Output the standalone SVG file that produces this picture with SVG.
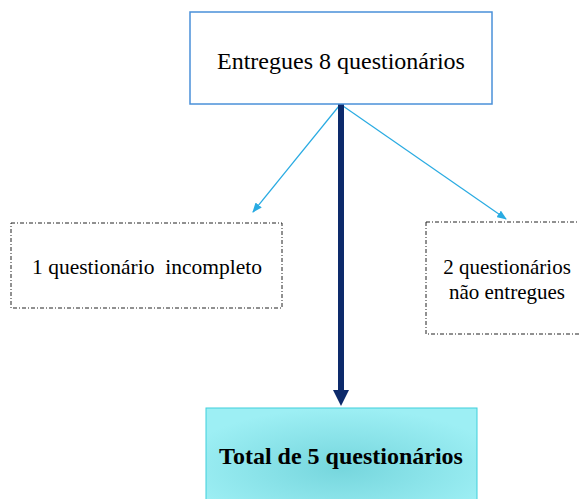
<svg xmlns="http://www.w3.org/2000/svg" width="579" height="499" viewBox="0 0 579 499">
<defs>
<radialGradient id="g" cx="0.5" cy="0.6" r="0.6">
<stop offset="0" stop-color="#76d6dd"/>
<stop offset="1" stop-color="#9defF4"/>
</radialGradient>
<marker id="ab" markerWidth="10" markerHeight="8" refX="9" refY="4" orient="auto" markerUnits="userSpaceOnUse">
<path d="M0,0 L10,4 L0,8 Z" fill="#29abe2"/>
</marker>
</defs>
<style>
text{font-family:"Liberation Serif","Times New Roman",serif;fill:#000;text-anchor:middle;white-space:pre}
.dd{fill:#fff;stroke:#222;stroke-width:1;stroke-dasharray:4 2 1 2}
.thin{stroke:#29abe2;stroke-width:1.2;fill:none}
</style>
<g id="connectors">
<line class="thin" x1="339" y1="106" x2="253" y2="212" marker-end="url(#ab)"/>
<line class="thin" x1="343" y1="106" x2="506" y2="219" marker-end="url(#ab)"/>
<line x1="341" y1="104" x2="341" y2="392" stroke="#0d2a6b" stroke-width="6"/>
<path d="M333,390 L349,390 L341,406 Z" fill="#0d2a6b"/>
</g>
<g id="top">
<rect x="190" y="12" width="302" height="92" fill="#fff" stroke="#4a90d9" stroke-width="1.5"/>
<text x="341" y="69" font-size="24">Entregues 8 questionários</text>
</g>
<g id="left">
<rect class="dd" x="11" y="223" width="271" height="85"/>
<text x="147" y="274" font-size="21.5" xml:space="preserve">1 questionário  incompleto</text>
</g>
<g id="right">
<rect class="dd" x="426" y="222" width="160" height="112"/>
<text x="507" y="274" font-size="21">2 questionários</text>
<text x="507" y="299" font-size="21">não entregues</text>
</g>
<g id="total">
<rect x="206" y="408" width="271" height="100" fill="url(#g)" stroke="#3fcfdb" stroke-width="1"/>
<text x="341" y="464" font-size="24" font-weight="bold">Total de 5 questionários</text>
</g>
</svg>
